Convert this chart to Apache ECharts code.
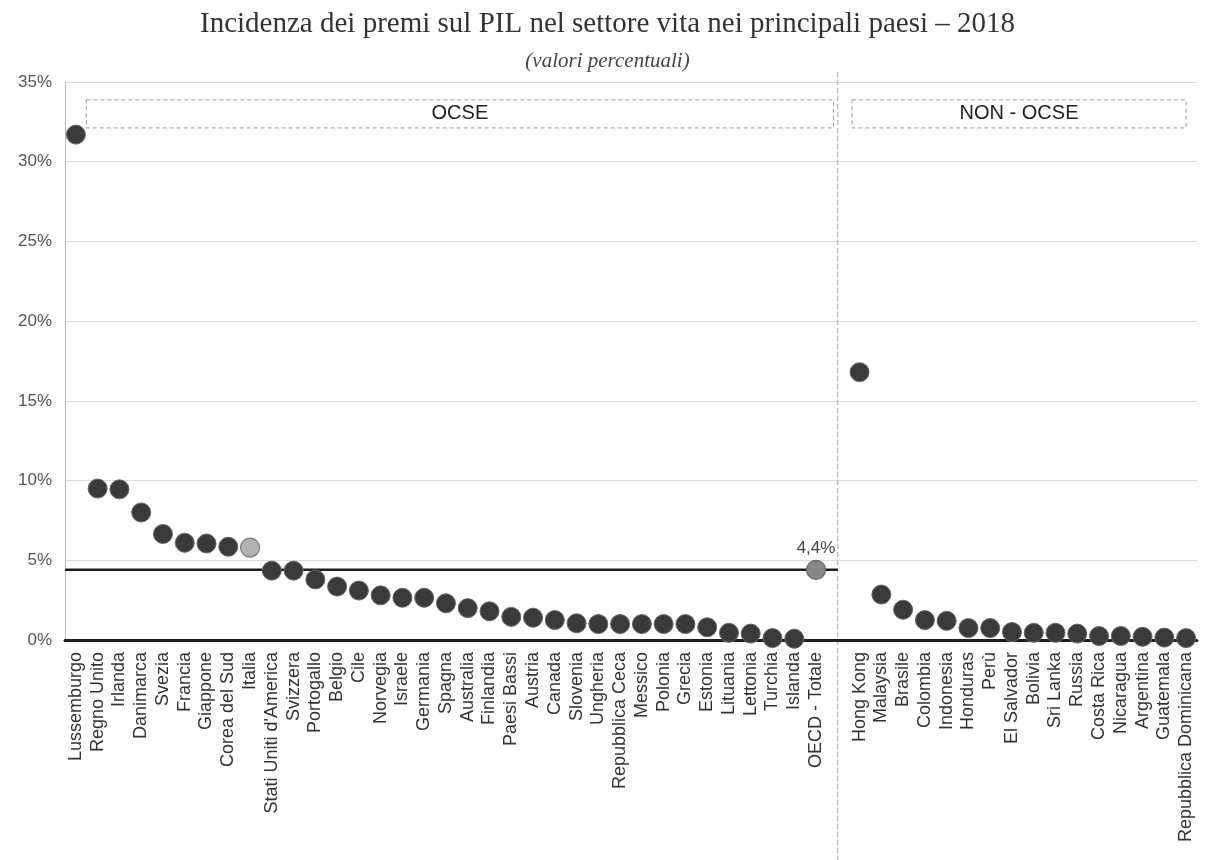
<!DOCTYPE html>
<html>
<head>
<meta charset="utf-8">
<script src="https://cdn.jsdelivr.net/npm/echarts@6/dist/echarts.min.js"></script>
<style>
  html, body { margin: 0; padding: 0; background: #fff; }
</style>
</head>
<body>
<div id="chart" style="width: 1215px; height: 860px;"></div>
<script>
// paesi OCSE (ordinati) e valori %
const ocseNames = ['Lussemburgo', 'Regno Unito', 'Irlanda', 'Danimarca', 'Svezia', 'Francia', 'Giappone',
  'Corea del Sud', 'Italia', "Stati Uniti d'America", 'Svizzera', 'Portogallo', 'Belgio', 'Cile', 'Norvegia',
  'Israele', 'Germania', 'Spagna', 'Australia', 'Finlandia', 'Paesi Bassi', 'Austria', 'Canada', 'Slovenia',
  'Ungheria', 'Repubblica Ceca', 'Messico', 'Polonia', 'Grecia', 'Estonia', 'Lituania', 'Lettonia', 'Turchia', 'Islanda'];
const ocseValues = [31.7, 9.5, 9.45, 8.0, 6.65, 6.1, 6.05, 5.85, 5.8, 4.35, 4.35, 3.8, 3.35, 3.1, 2.8, 2.65, 2.65,
  2.3, 2.0, 1.8, 1.45, 1.4, 1.25, 1.05, 1.0, 1.0, 1.0, 1.0, 1.0, 0.8, 0.45, 0.4, 0.12, 0.08];

const oecdName = 'OECD - Totale';
const oecdTotal = 4.4;

// paesi non OCSE
const nonOcseNames = ['Hong Kong', 'Malaysia', 'Brasile', 'Colombia', 'Indonesia', 'Honduras', 'Perù',
  'El Salvador', 'Bolivia', 'Sri Lanka', 'Russia', 'Costa Rica', 'Nicaragua', 'Argentina', 'Guatemala',
  'Repubblica Dominicana'];
const nonOcseValues = [16.8, 2.85, 1.9, 1.25, 1.2, 0.75, 0.75, 0.5, 0.45, 0.45, 0.4, 0.25, 0.25, 0.2, 0.15, 0.12];

const yTicks = [0, 5, 10, 15, 20, 25, 30, 35];

const categories = ocseNames.concat([oecdName, '']).concat(nonOcseNames);
const sepIndex = ocseNames.length + 1; // colonna vuota fra i due gruppi

const darkDot = { color: '#3a3a3a', borderColor: '#666', borderWidth: 1, opacity: 1 };
const points = [];
ocseNames.forEach(function (n, i) {
  if (n === 'Italia') {
    points.push({ value: ocseValues[i], itemStyle: { color: '#b2b2b2', borderColor: '#777', borderWidth: 1.2, opacity: 1 } });
  } else {
    points.push({ value: ocseValues[i], itemStyle: darkDot });
  }
});
points.push({
  value: oecdTotal,
  itemStyle: { color: '#878787', borderColor: '#666', borderWidth: 1.2, opacity: 1 },
  label: { show: true, position: 'top', distance: 3, formatter: '4,4%', color: '#444', fontSize: 17, fontFamily: 'Liberation Sans' }
});
points.push(null);
nonOcseValues.forEach(function (v) {
  points.push({ value: v, itemStyle: darkDot });
});

const myChart = echarts.init(document.getElementById('chart'));

const boxLabel = { show: true, position: 'inside', color: '#222', fontSize: 20, fontFamily: 'Liberation Sans' };
const boxStyle = { color: 'rgba(0,0,0,0)', borderColor: '#9a9a9a', borderWidth: 1, borderType: [4, 3] };

const option = {
  backgroundColor: '#fff',
  animation: false,
  title: {
    text: 'Incidenza dei premi sul PIL nel settore vita nei principali paesi – 2018',
    subtext: '(valori percentuali)',
    left: 'center',
    top: 5,
    itemGap: 12,
    textStyle: { fontFamily: 'Liberation Serif', fontSize: 29, fontWeight: 'normal', color: '#333' },
    subtextStyle: { fontFamily: 'Liberation Serif', fontSize: 21, fontStyle: 'italic', color: '#444' }
  },
  grid: {
    left: 65,
    right: 18,
    top: 82,
    bottom: 220
  },
  xAxis: [
    {
      type: 'category',
      data: categories,
      axisLine: { lineStyle: { color: '#1e1e1e', width: 3 } },
      axisTick: { show: false },
      axisLabel: {
        interval: 0,
        rotate: 90,
        margin: 12,
        color: '#333',
        fontSize: 18,
        fontFamily: 'Liberation Sans'
      }
    },
    {
      type: 'value',
      min: 0,
      max: categories.length,
      show: false
    }
  ],
  yAxis: {
    type: 'value',
    min: yTicks[0],
    max: yTicks[yTicks.length - 1],
    interval: 5,
    axisLine: { show: true, lineStyle: { color: '#b8b8b8', width: 1 } },
    axisTick: { show: false },
    axisLabel: {
      formatter: '{value}%',
      color: '#555',
      fontSize: 17,
      margin: 13,
      fontFamily: 'Liberation Sans'
    },
    splitLine: { lineStyle: { color: '#dcdcdc', width: 1 } }
  },
  series: [
    {
      // media OCSE
      type: 'line',
      xAxisIndex: 1,
      data: [[0, oecdTotal], [sepIndex + 0.5, oecdTotal]],
      symbol: 'none',
      lineStyle: { color: '#1e1e1e', width: 2.5 },
      z: 1,
      markArea: {
        silent: true,
        itemStyle: boxStyle,
        label: boxLabel,
        data: [
          [{ name: 'OCSE', coord: [0.98, 33.88] }, { coord: [35.3, 32.12] }],
          [{ name: 'NON - OCSE', coord: [36.15, 33.88] }, { coord: [51.5, 32.12] }]
        ]
      }
    },
    {
      type: 'scatter',
      data: points,
      symbolSize: 19,
      z: 3
    }
  ]
};

if (option && typeof option === 'object') {
  myChart.setOption(option);
}

// linea tratteggiata di separazione OCSE / NON-OCSE
const sepX = myChart.convertToPixel({ xAxisIndex: 1 }, sepIndex + 0.5);
myChart.setOption({
  graphic: [{
    type: 'line',
    shape: { x1: sepX, y1: 72, x2: sepX, y2: 860 },
    style: { stroke: '#a8a8a8', lineWidth: 1, lineDash: [5, 3] },
    z: 0,
    silent: true
  }]
});
</script>
</body>
</html>
